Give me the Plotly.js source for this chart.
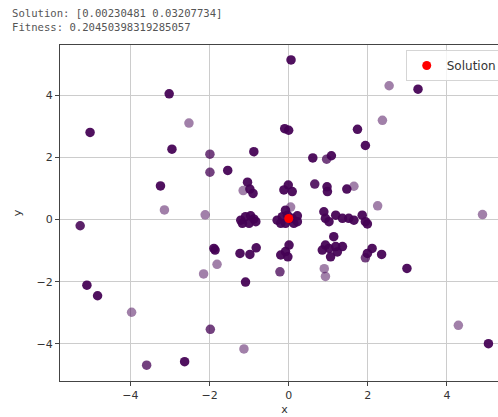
<!DOCTYPE html>
<html>
<head>
<meta charset="utf-8">
<script src="https://cdn.plot.ly/plotly-3.0.1.min.js"></script>
<style>
  html, body { margin: 0; padding: 0; background: #fff; overflow: hidden; width: 498px; height: 417px; }
  #log {
    position: absolute; left: 12px; top: 6px; z-index: 2;
    font-family: "DejaVu Sans Mono", monospace; font-size: 10.6px; line-height: 14px;
    color: #555; white-space: pre;
  }
  #chart { position: absolute; left: 0; top: 0; width: 530px; height: 417px; }
</style>
</head>
<body>
<div id="log"></div>
<div id="chart"></div>
<script>
// Optimiser result printed above the plot
const solution = [0.00230481, 0.03207734];
const fitness = "0.20450398319285057";
const logLines = [
  "Solution: [0.00230481 0.03207734]",
  "Fitness: " + fitness
];

// Population positions visited during the search
const popX = [
  -5.02, -3.02, -2.52, -2.95, -1.99, -1.99, -1.54, -3.24, -3.14, -2.11,
  -5.27, -1.04, -1.15, -0.98, -0.90, -0.88, -0.01, -0.12, 0.09, 0.05,
  -0.08, 0.06, 2.54, 3.27, 2.37, 1.74, -0.10, 0.00, 1.94, 0.61,
  0.96, 1.08, 0.66, 0.97, 0.98, 1.47, 1.65, 2.25, 4.90,
  -1.21, -1.09, -0.96, -0.88, -1.00, -1.17, -0.83,
  -0.29, -0.16, -0.03, 0.09, -0.08, -0.20, 0.13, 0.22, 0.22,
  0.89, 0.93, 1.02, 1.19, 1.36, 1.52, 1.65, 1.86, 1.94, 1.99,
  -1.89, -1.86, -1.81, -2.15, -1.23, -0.98, -0.82, -0.20, -0.08, 0.01,
  -0.02, -0.22, -1.09, 1.14, 0.93, 1.02, 1.19, 1.36, 0.85, 1.06,
  1.23, 2.11, 1.99, 2.35, 1.94, 0.90, 0.93, 2.99, 4.29, 5.05,
  -5.10, -4.83, -3.97, -3.59, -2.63, -1.98, -1.13
];
const popY = [
  2.80, 4.04, 3.10, 2.26, 2.10, 1.52, 1.58, 1.08, 0.31, 0.15,
  -0.20, 1.20, 0.93, 0.98, 0.84, 2.18, 1.11, 0.95, 0.90, 0.40,
  0.30, 5.13, 4.30, 4.19, 3.19, 2.90, 2.92, 2.87, 2.38, 1.98,
  1.94, 2.05, 1.14, 1.05, 0.90, 0.98, 1.07, 0.44, 0.16,
  -0.02, 0.09, 0.12, 0.02, -0.12, -0.12, -0.07,
  -0.02, 0.09, 0.14, 0.04, -0.12, -0.12, -0.12, 0.12, -0.07,
  0.25, 0.04, -0.07, 0.14, 0.04, 0.04, -0.02, 0.14, -0.07, -0.14,
  -0.93, -0.98, -1.44, -1.75, -1.09, -1.12, -0.91, -1.14, -1.03, -0.82,
  -1.20, -1.68, -2.01, -0.55, -0.82, -0.93, -0.87, -0.87, -0.98, -1.20,
  -1.04, -0.93, -1.09, -1.12, -1.23, -1.58, -1.83, -1.57, -3.40, -3.99,
  -2.11, -2.45, -2.98, -4.68, -4.57, -3.53, -4.16
];
// How many times each position was visited (stacked semi-transparent dots)
const popHits = [
  4, 4, 1, 4, 2, 2, 4, 4, 1, 1,
  3, 4, 1, 4, 4, 4, 4, 4, 4, 1,
  4, 4, 1, 4, 1, 4, 4, 4, 4, 4,
  2, 4, 3, 4, 4, 4, 1, 1, 1,
  4, 4, 4, 4, 4, 4, 4,
  4, 4, 4, 4, 4, 4, 4, 4, 4,
  4, 4, 4, 4, 4, 4, 4, 4, 4, 4,
  4, 4, 1, 1, 4, 4, 4, 4, 4, 4,
  4, 2, 4, 4, 4, 4, 4, 4, 4, 4,
  4, 4, 4, 4, 2, 1, 1, 4, 1, 4,
  4, 4, 1, 2, 4, 2, 1
];

const xTicks = [-4, -2, 0, 2, 4];
const xTickText = ["\u22124", "\u22122", "0", "2", "4"];
const yTicks = [-4, -2, 0, 2, 4];
const yTickText = ["\u22124", "\u22122", "0", "2", "4"];

document.getElementById("log").textContent = logLines.join("\n");

const POP_ALPHA = 0.5;
const popOpacity = popHits.map(n => 1 - Math.pow(1 - POP_ALPHA, n));

const traces = [
  {
    type: "scatter", mode: "markers",
    x: popX, y: popY, showlegend: false, hoverinfo: "skip",
    marker: { color: "#440154", size: 9.5, opacity: popOpacity, line: { width: 0 } }
  },
  {
    type: "scatter", mode: "markers", name: "Solution",
    x: [solution[0]], y: [solution[1]],
    marker: { color: "#ff0000", size: 9, line: { width: 0 } }
  }
];

const axisStyle = {
  showgrid: true, gridcolor: "#cccccc", gridwidth: 1,
  zeroline: false, showline: true, linecolor: "#444", linewidth: 1, mirror: true,
  ticks: "outside", ticklen: 4, tickwidth: 1, tickcolor: "#444",
  tickfont: { family: "DejaVu Sans", size: 11, color: "#333" }
};

const layout = {
  width: 530, height: 417,
  margin: { l: 60, r: 21, t: 45, b: 36 },
  paper_bgcolor: "#ffffff", plot_bgcolor: "#ffffff",
  font: { family: "DejaVu Sans", size: 11, color: "#333" },
  xaxis: Object.assign({}, axisStyle, {
    range: [-5.78, 5.57], tickmode: "array", tickvals: xTicks, ticktext: xTickText,
    title: { text: "x", font: { size: 11, color: "#333" }, standoff: 4 }
  }),
  yaxis: Object.assign({}, axisStyle, {
    range: [-5.19, 5.61], tickmode: "array", tickvals: yTicks, ticktext: yTickText,
    title: { text: "y", font: { size: 11, color: "#333" }, standoff: 12 }
  }),
  legend: {
    x: 0.77, y: 0.985, xanchor: "left", yanchor: "top",
    bgcolor: "rgba(255,255,255,0.8)", bordercolor: "#d5d5d5", borderwidth: 1,
    font: { family: "DejaVu Sans", size: 12, color: "#333" }
  },
  showlegend: true
};

Plotly.newPlot("chart", traces, layout, { displayModeBar: false, staticPlot: true });
</script>
</body>
</html>
